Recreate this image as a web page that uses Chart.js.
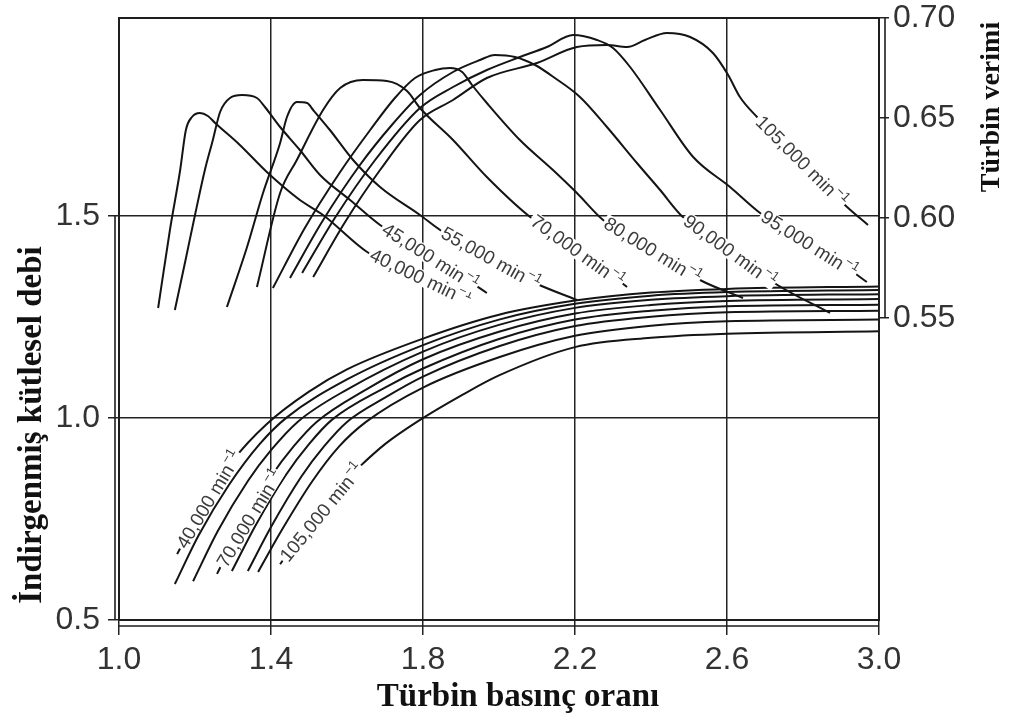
<!DOCTYPE html>
<html>
<head>
<meta charset="utf-8">
<script src="https://cdn.jsdelivr.net/npm/chart.js@4.4.1/dist/chart.umd.min.js"></script>
<style>
html,body{margin:0;padding:0;background:#fff;}
#wrap{width:1012px;height:720px;position:relative;}
</style>
</head>
<body>
<div id="wrap"><canvas id="c" width="1012" height="720"></canvas></div>
<script>
// ---------- tick labels ----------
const xTicks = [1.0, 1.4, 1.8, 2.2, 2.6, 3.0];
const flowTicks = [0.5, 1.0, 1.5];
const effTicks = [0.55, 0.60, 0.65, 0.70];
const speeds = ['40,000', '45,000', '55,000', '70,000', '80,000', '90,000', '95,000', '105,000'];

// ---------- turbine efficiency (right axis) ----------
const effX40 = [1.103,1.134,1.161,1.176,1.192,1.213,1.234,1.253,1.318,1.389,1.476,1.537,1.653,1.792,1.918];
const effV40 = [0.555,0.594,0.624,0.644,0.6505,0.6525,0.651,0.6475,0.6365,0.623,0.609,0.6015,0.583,0.570,0.559];
const effX45 = [1.147,1.174,1.200,1.226,1.247,1.266,1.292,1.324,1.363,1.384,1.424,1.476,1.529,1.608,1.687,1.818,1.968];
const effV45 = [0.554,0.578,0.6015,0.624,0.639,0.653,0.660,0.6615,0.660,0.6555,0.6455,0.634,0.6215,0.609,0.5965,0.5815,0.5625];
const effX55 = [1.284,1.337,1.379,1.424,1.442,1.468,1.495,1.511,1.555,1.616,1.687,1.792,1.845,1.976,2.089,2.205];
const effV55 = [0.5555,0.5855,0.6125,0.6375,0.6505,0.658,0.6575,0.654,0.644,0.629,0.6155,0.6015,0.594,0.580,0.568,0.559];
const effX70 = [1.363,1.424,1.468,1.537,1.582,1.642,1.705,1.758,1.792,1.879,1.968,2.082,2.213,2.337];
const effV70 = [0.5655,0.6125,0.629,0.654,0.665,0.669,0.6685,0.6635,0.655,0.639,0.6205,0.6005,0.584,0.5655];
const effX80 = [1.405,1.489,1.582,1.661,1.726,1.779,1.832,1.871,1.903,1.929,1.968,2.055,2.142,2.205,2.274,2.397,2.529,2.642];
const effV80 = [0.565,0.595,0.623,0.644,0.660,0.670,0.674,0.675,0.673,0.6665,0.6575,0.639,0.624,0.6125,0.599,0.585,0.569,0.560];
const effX90 = [1.450,1.534,1.634,1.718,1.792,1.879,1.950,1.989,2.042,2.095,2.147,2.213,2.284,2.363,2.424,2.484,2.608,2.705,2.871];
const effV90 = [0.570,0.598,0.6265,0.6465,0.6615,0.673,0.679,0.6815,0.6805,0.6765,0.670,0.6605,0.6455,0.6275,0.614,0.6005,0.5865,0.570,0.5525];
const effX95 = [1.482,1.568,1.674,1.792,1.879,1.968,2.055,2.126,2.195,2.258,2.300,2.345,2.424,2.511,2.608,2.687,2.818,2.924,2.968];
const effV95 = [0.5725,0.600,0.629,0.655,0.6655,0.674,0.6805,0.6855,0.6915,0.689,0.685,0.6755,0.654,0.6305,0.6155,0.6025,0.5865,0.574,0.568];
const effX105 = [1.511,1.595,1.687,1.792,1.879,1.968,2.100,2.205,2.284,2.337,2.384,2.442,2.503,2.563,2.603,2.634,2.679,2.792,2.916,2.971];
const effV105 = [0.5705,0.598,0.624,0.649,0.659,0.670,0.6775,0.6855,0.6865,0.6855,0.689,0.6925,0.6905,0.6825,0.6715,0.6605,0.6505,0.629,0.6055,0.5965];

// ---------- reduced mass flow (left axis) ----------
const flowX40 = [1.153,1.22,1.30,1.389,1.5,1.6,1.8,2.0,2.2,2.4,2.6,3.0];
const flowV40 = [0.663,0.78,0.895,0.985,1.065,1.12,1.196,1.255,1.29,1.31,1.319,1.325];
const flowX45 = [1.147,1.21,1.29,1.37,1.44,1.6,1.8,2.0,2.2,2.4,2.6,3.0];
const flowV45 = [0.589,0.71,0.835,0.935,1.0,1.095,1.18,1.243,1.282,1.302,1.311,1.316];
const flowX55 = [1.195,1.26,1.34,1.40,1.47,1.6,1.8,2.0,2.2,2.4,2.6,3.0];
const flowV55 = [0.596,0.72,0.845,0.92,0.99,1.07,1.164,1.23,1.272,1.292,1.301,1.306];
const flowX70 = [1.258,1.32,1.40,1.46,1.52,1.65,1.8,2.0,2.2,2.4,2.6,3.0];
const flowV70 = [0.614,0.73,0.855,0.93,0.99,1.07,1.145,1.213,1.258,1.279,1.289,1.294];
const flowX80 = [1.297,1.36,1.44,1.50,1.56,1.7,1.8,2.0,2.2,2.4,2.6,3.0];
const flowV80 = [0.621,0.735,0.86,0.935,0.995,1.075,1.122,1.195,1.243,1.265,1.276,1.28];
const flowX90 = [1.339,1.40,1.48,1.54,1.60,1.7,1.8,2.0,2.2,2.4,2.6,3.0];
const flowV90 = [0.621,0.73,0.855,0.93,0.99,1.05,1.102,1.177,1.227,1.25,1.261,1.265];
const flowX95 = [1.366,1.43,1.51,1.58,1.65,1.8,2.0,2.2,2.4,2.6,3.0];
const flowV95 = [0.619,0.725,0.845,0.93,0.99,1.075,1.15,1.203,1.228,1.239,1.243];
const flowX105 = [1.424,1.5,1.57,1.634,1.70,1.784,1.9,2.0,2.2,2.4,2.6,3.0];
const flowV105 = [0.638,0.74,0.82,0.88,0.935,0.99,1.055,1.105,1.175,1.198,1.208,1.214];

// label anchors along curves (x where text starts, x giving direction)
const effLabelStart = [1.661,1.695,1.850,2.087,2.279,2.489,2.692,2.682];
const effLabelDir   = [1.918,1.968,2.089,2.337,2.529,2.705,2.924,2.916];
const flowLabelSpeeds = [0, 3, 7];
const flowLabelStart = [1.162, 1.268, 1.432];
const flowLabelDir   = [1.300, 1.460, 1.634];

const effXs = [effX40,effX45,effX55,effX70,effX80,effX90,effX95,effX105];
const effVs = [effV40,effV45,effV55,effV70,effV80,effV90,effV95,effV105];
const flowXs = [flowX40,flowX45,flowX55,flowX70,flowX80,flowX90,flowX95,flowX105];
const flowVs = [flowV40,flowV45,flowV55,flowV70,flowV80,flowV90,flowV95,flowV105];

const zip = (xs, vs) => xs.map((x, i) => ({x: x, y: vs[i]}));
const datasets = [];
speeds.forEach((s, i) => datasets.push({label: 'eff ' + s, yAxisID: 'y2', data: zip(effXs[i], effVs[i])}));
speeds.forEach((s, i) => datasets.push({label: 'flow ' + s, yAxisID: 'y', data: zip(flowXs[i], flowVs[i])}));

const SANS = '"Liberation Sans", Arial, Helvetica, sans-serif';
const SERIF = '"Liberation Serif", "Times New Roman", serif';

function pointOn(chart, dsIdx, xv) {
  const ds = chart.data.datasets[dsIdx];
  const xs = chart.scales.x, ys = chart.scales[ds.yAxisID];
  const d = ds.data;
  let i = 0;
  while (i < d.length - 2 && xv > d[i + 1].x) i++;
  const t = (xv - d[i].x) / (d[i + 1].x - d[i].x);
  const yv = d[i].y + t * (d[i + 1].y - d[i].y);
  return {x: xs.getPixelForValue(xv), y: ys.getPixelForValue(yv)};
}

function drawCurveLabel(chart, dsIdx, x0, x1, text, size, boxH) {
  const ctx = chart.ctx;
  const p0 = pointOn(chart, dsIdx, x0), p1 = pointOn(chart, dsIdx, x1);
  const ang = Math.atan2(p1.y - p0.y, p1.x - p0.x);
  const big = size + 'px ' + SANS;
  const small = Math.round(size * 0.7) + 'px ' + SANS;
  ctx.save();
  ctx.translate(p0.x, p0.y);
  ctx.rotate(ang);
  ctx.font = big;
  const main = text + ' min';
  const w1 = ctx.measureText(main).width;
  ctx.font = small;
  const w2 = ctx.measureText('\u22121').width;
  ctx.fillStyle = '#fff';
  ctx.fillRect(-1, -boxH / 2, w1 + w2 + 4, boxH);
  ctx.fillStyle = '#3c3c3c';
  ctx.textAlign = 'left';
  ctx.textBaseline = 'middle';
  ctx.font = big;
  ctx.fillText(main, 1, 1);
  ctx.font = small;
  ctx.fillText('\u22121', w1 + 2, -size * 0.3);
  ctx.restore();
}

const labelPlugin = {
  id: 'curveLabels',
  afterDatasetsDraw(chart) {
    for (let i = 0; i < speeds.length; i++) {
      drawCurveLabel(chart, i, effLabelStart[i], effLabelDir[i], speeds[i], 19, 16);
    }
    flowLabelSpeeds.forEach((s, k) => {
      drawCurveLabel(chart, speeds.length + s, flowLabelStart[k], flowLabelDir[k], speeds[s], 19, 14);
    });
  }
};

const framePlugin = {
  id: 'frameAxes',
  afterDraw(chart) {
    const {ctx, chartArea: a, scales} = chart;
    ctx.save();
    ctx.strokeStyle = '#1e1e1e';
    ctx.lineWidth = 2;
    ctx.strokeRect(a.left, a.top, a.right - a.left, a.bottom - a.top);
    ctx.lineWidth = 1.6;
    ctx.beginPath();
    const yb = a.bottom + 6;
    ctx.moveTo(scales.x.getPixelForValue(xTicks[0]), yb);
    ctx.lineTo(scales.x.getPixelForValue(xTicks[xTicks.length - 1]), yb);
    const xl = a.left - 4;
    ctx.moveTo(xl, scales.y.getPixelForValue(flowTicks[flowTicks.length - 1]));
    ctx.lineTo(xl, scales.y.getPixelForValue(flowTicks[0]));
    const xr = a.right + 6;
    ctx.moveTo(xr, scales.y2.getPixelForValue(effTicks[effTicks.length - 1]));
    ctx.lineTo(xr, scales.y2.getPixelForValue(effTicks[0]));
    ctx.stroke();

    // axis titles
    ctx.fillStyle = '#111';
    ctx.textAlign = 'center';
    ctx.textBaseline = 'middle';
    ctx.font = 'bold 33px ' + SERIF;
    ctx.fillText('Türbin basınç oranı', 518, 697);
    ctx.save();
    ctx.translate(32, 425);
    ctx.rotate(-Math.PI / 2);
    ctx.fillText('İndirgenmiş kütlesel debi', 0, 0);
    ctx.restore();
    ctx.save();
    ctx.translate(992, 107);
    ctx.rotate(-Math.PI / 2);
    ctx.font = 'bold 28px ' + SERIF;
    ctx.fillText('Türbin verimi', 0, 0);
    ctx.restore();
    ctx.restore();
  }
};

const zeroPad = s => { s.paddingTop = 0; s.paddingBottom = 0; s.paddingLeft = 0; s.paddingRight = 0; };

new Chart(document.getElementById('c'), {
  type: 'line',
  data: {datasets: datasets},
  options: {
    responsive: false,
    animation: false,
    layout: {padding: {top: 18, left: 0, right: 0, bottom: 0}},
    plugins: {legend: {display: false}, tooltip: {enabled: false}, title: {display: false}},
    elements: {
      point: {radius: 0},
      line: {borderWidth: 2, borderColor: '#141414', cubicInterpolationMode: 'monotone', fill: false}
    },
    scales: {
      x: {
        type: 'linear', min: 1.0, max: 3.0,
        afterBuildTicks: s => { s.ticks = xTicks.map(v => ({value: v})); },
        ticks: {callback: v => Number(v).toFixed(1), font: {family: SANS, size: 32}, color: '#333', padding: 6, maxRotation: 0, autoSkip: false},
        grid: {color: '#222', lineWidth: 1.5, tickLength: 15, drawTicks: true},
        border: {display: false},
        afterFit: s => { s.height = 100; zeroPad(s); }
      },
      y: {
        type: 'linear', position: 'left', min: 0.5, max: 1.989,
        afterBuildTicks: s => { s.ticks = flowTicks.map(v => ({value: v})); },
        ticks: {callback: v => Number(v).toFixed(1), font: {family: SANS, size: 32}, color: '#333', padding: 8, autoSkip: false},
        grid: {color: '#222', lineWidth: 1.5, tickLength: 11},
        border: {display: false},
        afterFit: s => { s.width = 119; zeroPad(s); }
      },
      y2: {
        type: 'linear', position: 'right', min: 0.399, max: 0.70,
        afterBuildTicks: s => { s.ticks = effTicks.map(v => ({value: v})); },
        ticks: {callback: v => Number(v).toFixed(2), font: {family: SANS, size: 32}, color: '#333', padding: 4, autoSkip: false},
        grid: {drawOnChartArea: false, color: '#222', lineWidth: 1.5, tickLength: 10},
        border: {display: false},
        afterFit: s => { s.width = 133; zeroPad(s); }
      }
    }
  },
  plugins: [labelPlugin, framePlugin]
});
</script>
</body>
</html>
